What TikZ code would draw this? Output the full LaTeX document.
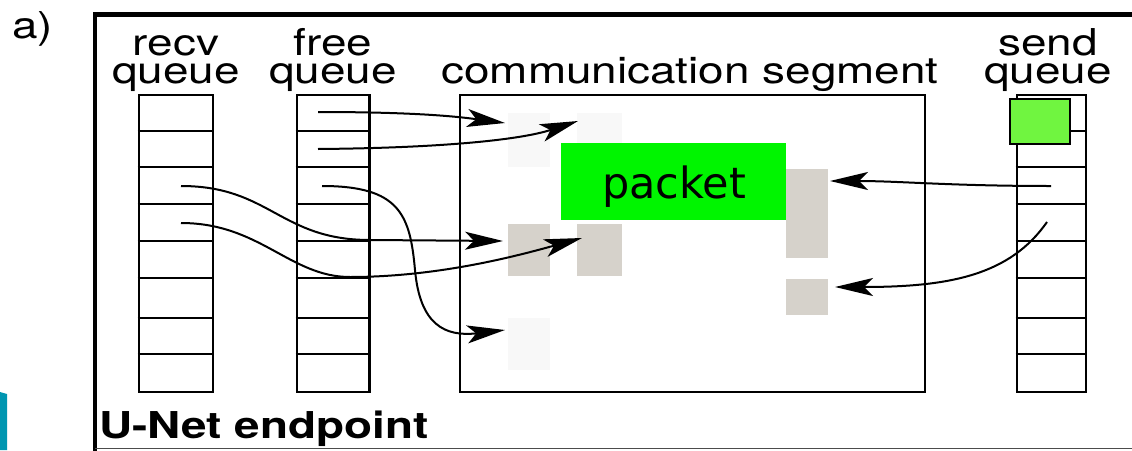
\documentclass[tikz,border=0pt]{standalone}
\usepackage{graphicx}
\usepackage{fontspec}
\setmainfont{TeX Gyre Heros}
\newfontfamily\pktfont{DejaVu Sans}
\usetikzlibrary{arrows.meta}

\definecolor{pktgreen}{RGB}{0,245,0}
\definecolor{slotgreen}{RGB}{112,245,64}
\definecolor{bufgray}{RGB}{214,210,203}
\definecolor{buffaint}{RGB}{248,248,248}
\definecolor{slideteal}{RGB}{0,150,177}

\newcommand{\stretchtxt}[1]{\scalebox{1.24}[1]{#1}}

\tikzset{
  lbl/.style={inner sep=0pt, anchor=base, font=\fontsize{37}{37}\selectfont},
  qlbl/.style={inner sep=0pt, anchor=base, align=center, font=\fontsize{37}{28}\selectfont},
  qbox/.style={draw, line width=2.2pt, inner sep=0pt, anchor=north west},
  qline/.style={line width=2.2pt},
  buf/.style={fill=bufgray, inner sep=0pt, anchor=north west},
  faintbuf/.style={fill=buffaint, inner sep=0pt, anchor=north west},
  arr/.style={line width=2pt, -{Stealth[length=38pt,width=18pt,inset=9pt]}},
}

\begin{document}
\begin{tikzpicture}[x=1pt,y=1pt]
\useasboundingbox (0,0) rectangle (1132,-450);
\fill[white] (0,0) rectangle (1132,-450);

% slide decoration at the lower left
\fill[slideteal] (0,-392) -- (7,-394) -- (7,-450) -- (0,-450) -- cycle;

% endpoint frame
\draw[line width=4.5pt] (95,-452) -- (95,-14.5) -- (1140,-14.5);
\draw[line width=1.5pt, black!70] (95,-448.5) -- (1140,-448.5);

\node[lbl, anchor=base west] (tag) at (12,-38) {\stretchtxt{a)}};
\node[lbl, anchor=base west, font=\fontsize{37}{37}\selectfont\bfseries] (ep) at (99,-438) {\stretchtxt{U-Net endpoint}};

% queue labels (anchored on the baseline of the second line)
\node[qlbl] (recvL) at (176,-83) {\stretchtxt{recv}\\\stretchtxt{queue}};
\node[qlbl] (freeL) at (333,-83) {\stretchtxt{free}\\\stretchtxt{queue}};
\node[qlbl] (sendL) at (1048,-83) {\stretchtxt{send}\\\stretchtxt{queue}};
\node[lbl] (segT) at (690,-83) {\stretchtxt{communication segment}};

% communication segment
\node[qbox, minimum width=465, minimum height=296.7] (seg) at (459,-94) {};

% buffers inside the segment
\node[faintbuf, minimum width=42, minimum height=54] (b1) at (508,-113) {};
\node[faintbuf, minimum width=45, minimum height=54] (b2) at (577,-113) {};
\node[buf, minimum width=42, minimum height=52] (b3) at (508,-224) {};
\node[buf, minimum width=45, minimum height=52] (b4) at (577,-224) {};
\node[faintbuf, minimum width=42, minimum height=52] (b5) at (508,-318) {};
\node[buf, minimum width=42, minimum height=89] (b6) at (786,-169) {};
\node[buf, minimum width=42, minimum height=36] (b7) at (786,-279) {};

% packet
\node[fill=pktgreen, inner sep=0pt, minimum width=225, minimum height=77, anchor=north west] (pkt) at (561,-142.7) {};
\node[inner sep=0pt, anchor=base, font=\pktfont\fontsize{43}{43}\selectfont] (pktT) at (674,-198) {packet};

% queues
\node[qbox, minimum width=74, minimum height=296.7] (recv) at (137.7,-94) {};
\node[qbox, minimum width=72.6, minimum height=296.7] (free) at (295.7,-94) {};
\node[qbox, minimum width=69.3, minimum height=296.7] (send) at (1015.7,-94) {};
\foreach \q in {recv,free,send}{
  \foreach \yy in {130.7,167.3,204.3,241,277.7,317.7,354.3}{
    \draw[qline] (\q.west |- 0,-\yy) -- (\q.east |- 0,-\yy);
  }
}

% descriptor in the send queue
\node[draw, line width=2pt, fill=slotgreen, inner sep=0pt, minimum width=60, minimum height=44.4, anchor=north west] (slot) at (1009.3,-98.3) {};

% descriptor pointers
\coordinate (f1) at (318,-112);
\coordinate (f2) at (318,-149);
\coordinate (f3) at (322,-186);
\coordinate (r3) at (181,-186);
\coordinate (r4) at (181,-223);
\coordinate (s3) at (1051,-186);
\coordinate (s4) at (1047,-222);

\coordinate (t1) at (505,-123);
\coordinate (t2) at (578,-121);
\coordinate (t3) at (503,-241);
\coordinate (t4) at (582,-238);
\coordinate (t5) at (505,-330);
\coordinate (t6) at (830,-181);
\coordinate (t7) at (835,-287);

\draw[arr] (f1) .. controls (420,-112) and (460,-117) .. (t1);
\draw[arr] (f2) .. controls (440,-148) and (520,-140) .. (t2);
\draw[arr] (r3) .. controls (270,-186) and (280,-240) .. (370,-240) -- (t3);
\draw[arr] (r4) .. controls (260,-223) and (290,-277) .. (350,-277)
               .. controls (440,-277) and (520,-255) .. (t4);
\draw[arr] (f3) .. controls (400,-186) and (410,-215) .. (415,-270)
               .. controls (420,-325) and (445,-337) .. (t5);
\draw[arr] (s3) .. controls (950,-186) and (900,-181) .. (t6);
\draw[arr] (s4) .. controls (1010,-275) and (950,-287) .. (t7);
\end{tikzpicture}
\end{document}
